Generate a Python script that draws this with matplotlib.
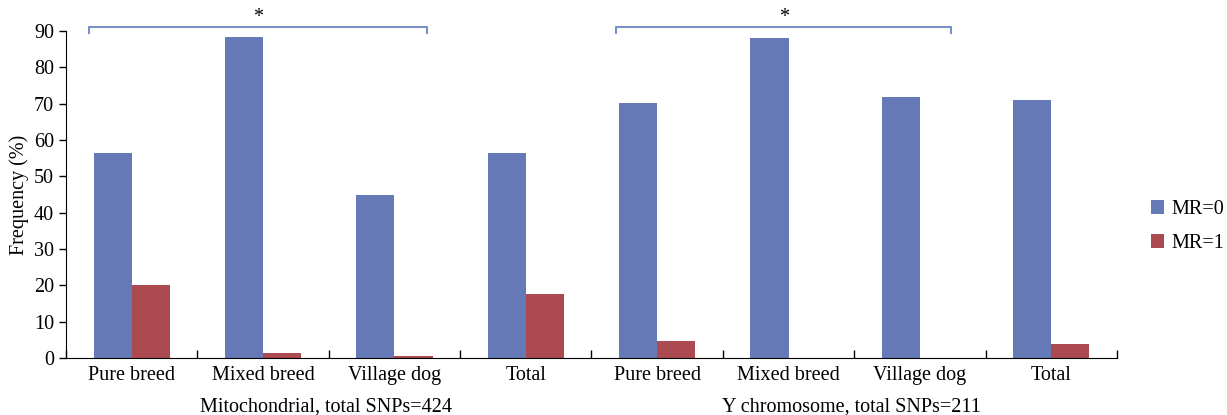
import matplotlib.pyplot as plt
import numpy as np

plt.rcParams['font.family'] = ['Liberation Serif', 'DejaVu Serif']

categories = ['Pure breed', 'Mixed breed', 'Village dog', 'Total',
              'Pure breed', 'Mixed breed', 'Village dog', 'Total']
mr0 = [56.4, 88.3, 45.0, 56.4, 70.2, 88.0, 71.9, 71.0]
mr1 = [20.2, 1.3, 0.5, 17.6, 4.7, 0.0, 0.0, 3.8]
groups = ['Mitochondrial, total SNPs=424', 'Y chromosome, total SNPs=211']
blue = '#6479b6'
red = '#ab4a50'

fig = plt.figure(figsize=(12.27, 4.15), dpi=100)
ax = fig.add_axes([0.0538, 0.1373, 0.8565, 0.788])

x = np.arange(len(categories))
w = 0.29
ax.bar(x - w / 2, mr0, w, color=blue, label='MR=0')
ax.bar(x + w / 2, mr1, w, color=red, label='MR=1')

fs = 14.5
ax.set_xlim(-0.5, 7.5)
ax.set_ylim(0, 90)
ax.set_yticks(range(0, 91, 10))
ax.set_xticks(x)
ax.set_xticklabels(categories, fontsize=fs)
ax.tick_params(axis='x', length=0, pad=6)
ax.set_xticks(np.arange(-0.5, 7.6, 1), minor=True)
ax.tick_params(axis='x', which='minor', direction='in', length=6, width=1)
ax.tick_params(axis='y', direction='out', length=5, labelsize=fs, width=1)
for s in ['top', 'right']:
    ax.spines[s].set_visible(False)
ax.set_ylabel('Frequency (%)', fontsize=fs, labelpad=4)

# group labels below the categories
ax.text(1.48, -0.12, groups[0], transform=ax.get_xaxis_transform(),
        ha='center', va='top', fontsize=fs)
ax.text(5.48, -0.12, groups[1], transform=ax.get_xaxis_transform(),
        ha='center', va='top', fontsize=fs)

# significance brackets
for x0, x1 in [(-0.325, 2.25), (3.69, 6.24)]:
    ax.plot([x0, x0, x1, x1], [89.5, 91.2, 91.2, 89.5], color='#7a90c8',
            lw=1.5, clip_on=False)
    ax.text((x0 + x1) / 2, 91.0, '*', ha='center', va='bottom', fontsize=fs,
            clip_on=False)

ax.legend(loc='center left', bbox_to_anchor=(1.032, 0.402), frameon=False,
          fontsize=fs, handlelength=0.65, handleheight=0.65, handletextpad=0.4,
          labelspacing=0.75, borderaxespad=0, borderpad=0)

fig.savefig('out.png')
